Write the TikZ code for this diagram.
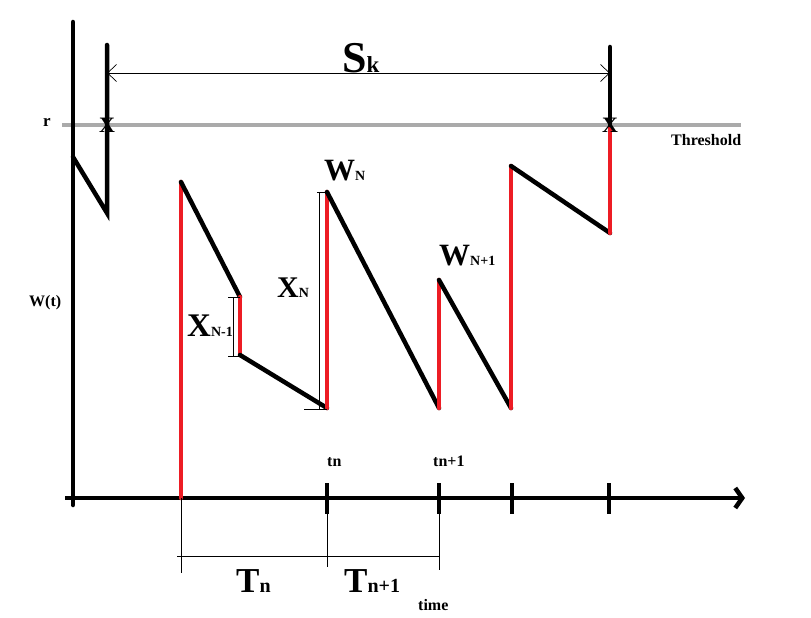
\documentclass[tikz,border=0pt]{standalone}
\usepackage{fontspec}
\setmainfont{Liberation Serif}
\usepackage{tikz}
\usetikzlibrary{arrows.meta}
\definecolor{jumpred}{RGB}{237,28,36}
\definecolor{thrgray}{RGB}{170,170,170}
\newcommand{\sized}[2]{{\fontsize{#1}{#1}\selectfont #2}}
\newcommand{\lab}[4]{\sized{#1}{#2}\sized{#3}{#4}}
\tikzset{
  seg/.style={line width=4.5pt, line cap=round},
  jump/.style={seg, jumpred},
  dim/.style={line width=0.7pt},
  txt/.style={inner sep=0pt, anchor=base west, font=\bfseries},
  cross/.style={inner sep=0pt, font=\bfseries\fontsize{22}{22}\selectfont},
}

\begin{document}
\begin{tikzpicture}[x=1pt,y=-1pt]
    \useasboundingbox (0,0) rectangle (811,618);
    \draw [thrgray, line width=4pt] (62,125) -- (741,125);
    \draw [seg] (73,505) -- (73,22);
    \draw [line width=4.5pt, -{Straight Barb[length=7pt,width=20pt]}] (65,498) -- (745,498);
    \foreach \x in {327,439,512,609}
        \draw [line width=4pt] (\x,483) -- (\x,514);
    \coordinate (w0) at (73,157);
    \coordinate (w1) at (107,213);
    \coordinate (w2) at (107,45);
    \coordinate (a0) at (181,498);
    \coordinate (a1) at (181,182);
    \coordinate (a2) at (240,297);
    \coordinate (a3) at (240,355);
    \coordinate (b0) at (327,408);
    \coordinate (b1) at (327,192);
    \coordinate (c0) at (439,408);
    \coordinate (c1) at (439,280);
    \coordinate (d0) at (511,408);
    \coordinate (d1) at (511,166);
    \coordinate (e0) at (610,233);
    \coordinate (e1) at (610,125);
    \coordinate (e2) at (610,47);
    \draw [seg] (w0) -- (w1) -- (w2);
    \draw [jump] (a0) -- (a1);
    \draw [seg] (a1) -- (a2);
    \draw [jump] (a2) -- (a3);
    \draw [seg] (a3) -- (b0);
    \draw [jump] (b0) -- (b1);
    \draw [seg] (b1) -- (c0);
    \draw [jump] (c0) -- (c1);
    \draw [seg] (c1) -- (d0);
    \draw [jump] (d0) -- (d1);
    \draw [seg] (d1) -- (e0);
    \draw [jump] (e0) -- (e1);
    \draw [seg] (e1) -- (e2);
    \draw [dim, {Straight Barb[length=9pt,width=17pt]}-{Straight Barb[length=9pt,width=17pt]}] (w2 |- 0,73) -- (e2 |- 0,73);
    \draw [dim] (228,297) -- (240,297) (228,356) -- (240,356) (233,297) -- (233,356);
    \draw [dim] (317,192) -- (327,192) (304,409) -- (327,409) (319,192) -- (319,409);
    \draw [dim] (a0) -- (181,573) (327,498) -- (327,567) (439,498) -- (439,570);
    \draw [dim] (177,556) -- (439,556);
    \node (xa) [cross] at (107,125) {X};
    \node (xb) [cross] at (610,125) {X};
    \node (sk) [txt] at (342,72) {\lab{44}{S}{23}{k}};
    \node (r) [txt] at (43,126) {\sized{17}{r}};
    \node (thr) [txt] at (671,145) {\sized{16}{Threshold}};
    \node (wt) [txt] at (29,306) {\sized{16}{W(t)}};
    \node (wn) [txt] at (324,180) {\lab{31}{W}{14}{N}};
    \node (wnn) [txt] at (439,265) {\lab{31}{W}{14}{N+1}};
    \node (xn) [txt] at (277,297) {\lab{30}{X}{14}{N}};
    \node (xnm) [txt] at (187,336) {\lab{33}{X}{14}{N-1}};
    \node (tn) [txt] at (327,466) {\sized{16}{tn}};
    \node (tnn) [txt] at (433,466) {\sized{16}{tn+1}};
    \node (Tn) [txt] at (236,592) {\lab{35}{T}{20}{n}};
    \node (Tnn) [txt] at (344,592) {\lab{35}{T}{20}{n+1}};
    \node (time) [txt] at (418,610) {\sized{16}{time}};
\end{tikzpicture}
\end{document}
